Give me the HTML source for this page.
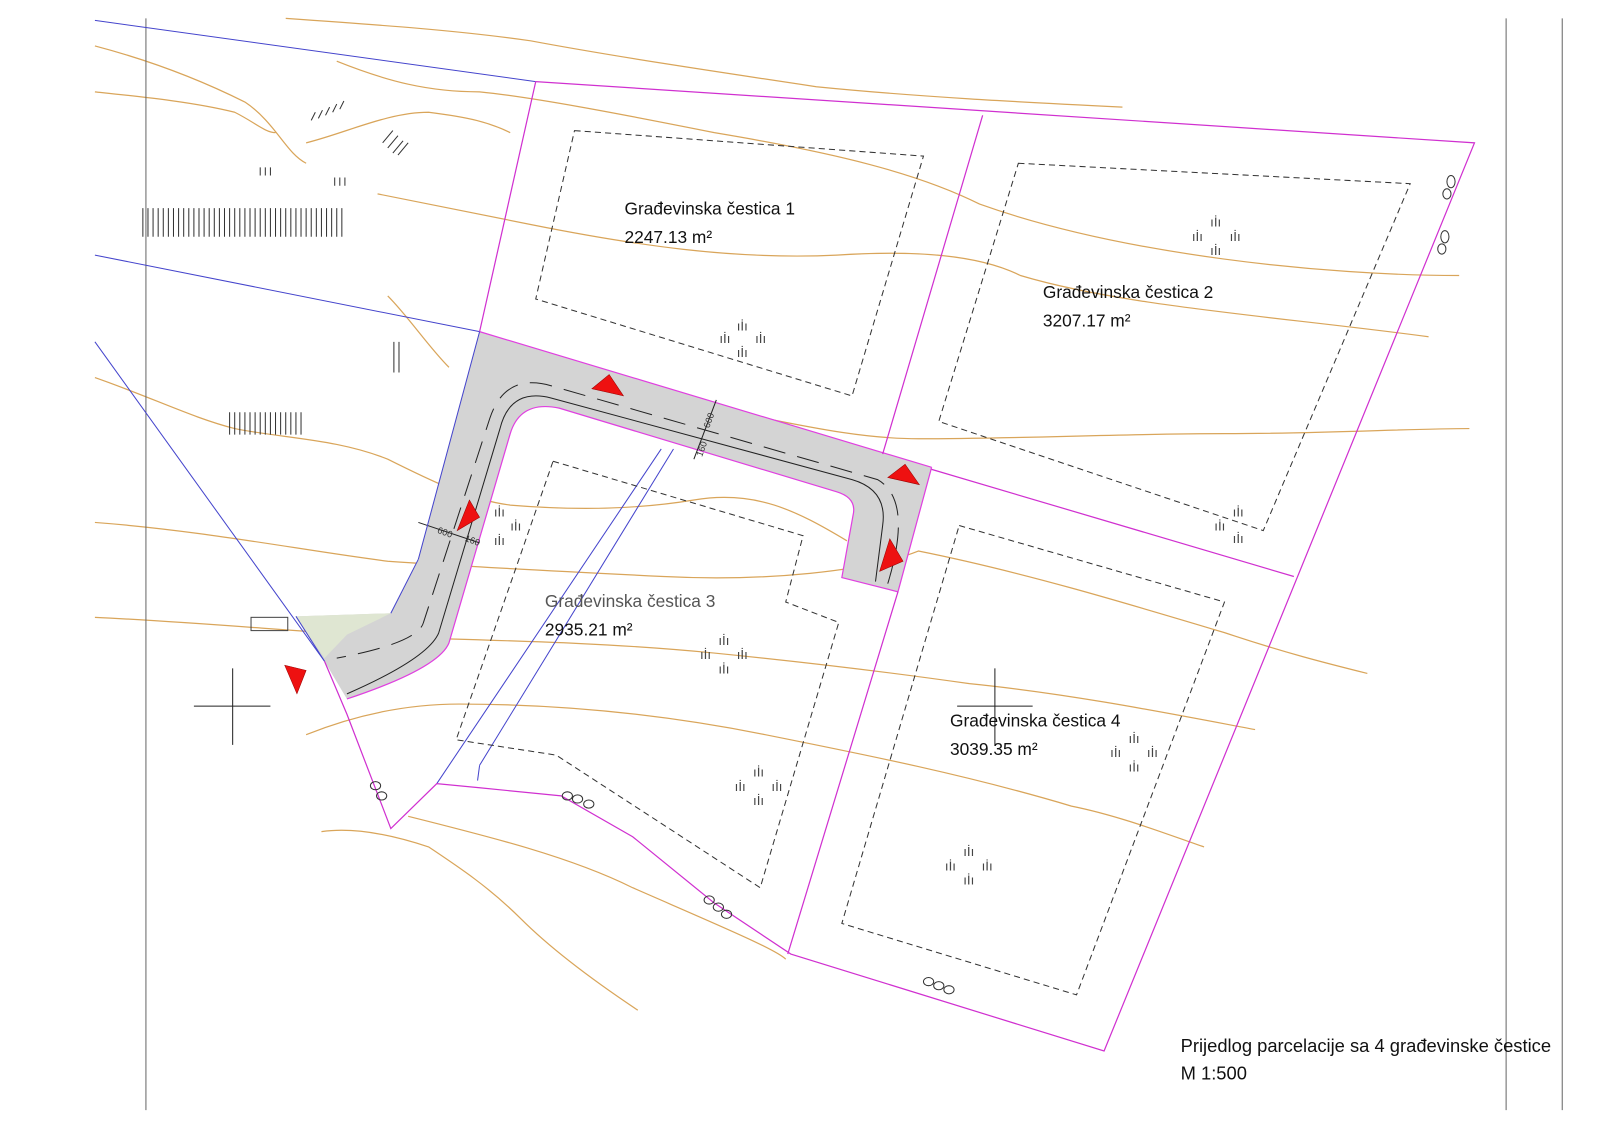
<!DOCTYPE html>
<html><head><meta charset="utf-8"><style>
html,body{margin:0;padding:0;background:#fff;}
svg{display:block;}
text{font-family:"Liberation Sans",sans-serif;}
</style></head><body>
<svg width="1600" height="1131" viewBox="0 0 1568 1108.4" xmlns="http://www.w3.org/2000/svg">
<rect width="1568" height="1108.4" fill="#fff"/>
<!-- contours -->
<g fill="none" stroke="#d9a55a" stroke-width="1.2">
<path d="M280,18 C380,25 450,30 520,40 C600,55 700,70 800,85 C900,95 1000,100 1100,105"/>
<path d="M93,45 C150,60 200,80 240,100 C270,120 280,150 300,160"/>
<path d="M93,90 C140,95 190,100 230,110 C250,120 260,130 270,130"/>
<path d="M330,60 C380,80 420,90 470,90 C520,95 600,110 700,130 C820,150 900,170 960,200 C1100,250 1300,270 1430,270"/>
<path d="M300,140 C340,130 380,110 420,110 C460,115 480,120 500,130"/>
<path d="M370,190 C420,200 470,210 520,220 C620,240 720,255 820,250 C900,245 960,250 1000,270 C1100,300 1250,310 1400,330"/>
<path d="M380,290 C400,310 420,340 440,360"/>
<path d="M93,370 C150,390 190,410 230,420 C280,430 330,430 380,450 C420,470 460,490 500,495 C560,500 620,500 680,490 C740,480 780,500 830,530"/>
<path d="M750,410 C800,420 850,430 900,430 C1000,430 1100,425 1200,425 C1300,425 1380,420 1440,420"/>
<path d="M93,512 C200,520 300,540 380,550 C450,555 550,560 650,565 C750,570 850,560 900,540 C1000,560 1100,590 1200,620 C1260,640 1300,650 1340,660"/>
<path d="M93,605 C200,610 300,620 400,625 C500,628 600,630 700,640 C800,650 880,660 950,670 C1050,680 1150,700 1230,715"/>
<path d="M300,720 C350,700 400,690 450,690 C550,690 650,700 750,720 C850,740 950,760 1050,790 C1100,800 1150,820 1180,830"/>
<path d="M315,815 C350,810 390,820 420,830 C450,850 480,870 510,900 C540,930 580,960 625,990"/>
<path d="M400,800 C480,820 560,840 620,870 C700,905 760,930 770,940"/>
</g>
<!-- hatching / symbols -->
<g stroke="#333" stroke-width="1">
<path d="M140,204v28M145,204v28M150,204v28M155,204v28M160,204v28M165,204v28M170,204v28M175,204v28M180,204v28M185,204v28M190,204v28M195,204v28M200,204v28M205,204v28M210,204v28M215,204v28M220,204v28M225,204v28M230,204v28M235,204v28M240,204v28M245,204v28M250,204v28M255,204v28M260,204v28M265,204v28M270,204v28M275,204v28M280,204v28M285,204v28M290,204v28M295,204v28M300,204v28M305,204v28M310,204v28M315,204v28M320,204v28M325,204v28M330,204v28M335,204v28"/>
<path d="M225,404v22M230,404v22M235,404v22M240,404v22M245,404v22M250,404v22M255,404v22M260,404v22M265,404v22M270,404v22M275,404v22M280,404v22M285,404v22M290,404v22M295,404v22"/>
<path d="M386,335v30M391,335v30"/>
<path d="M375,140l10,-12M380,145l10,-12M385,150l10,-12M390,152l10,-12"/>
<path d="M305,118l4,-8M312,116l4,-8M319,113l4,-8M326,110l4,-8M333,107l4,-8"/>
<path d="M255,172v-8M260,172v-8M265,172v-8M328,182v-8M333,182v-8M338,182v-8"/>
</g>
<!-- frame lines -->
<g stroke="#666" stroke-width="1">
<line x1="143" y1="18" x2="143" y2="1088"/>
<line x1="1476" y1="18" x2="1476" y2="1088"/>
<line x1="1531" y1="18" x2="1531" y2="1088"/>
</g>
<!-- road -->
<path d="M470,325 L913,458 L880,580 L825,566 L836,505 Q840,488 820,482 L548,400 Q510,392 500,425 L440,630 Q430,655 340,685 L318,648 L290,604 L383,601 L410,548 Z" fill="#d4d4d4"/>
<path d="M290,604 L383,601 L340,622 L318,645 Z" fill="#dfe6d2"/>
<path d="M913,458 L880,580 L825,566 L836,505 Q840,488 820,482 L548,400 Q510,392 500,425 L440,630 Q430,655 340,685" fill="none" stroke="#e040e0" stroke-width="1.2"/>
<path d="M470,325 L913,458" fill="none" stroke="#e040e0" stroke-width="1.2"/>
<g fill="none" stroke="#222" stroke-width="1">
<path d="M858,570 L865,515 Q870,480 835,470 L540,390 Q500,380 490,420 L430,620 Q420,645 340,680" />
<path d="M870,572 Q895,490 860,470 L540,378 Q495,365 480,410 L415,610 Q410,630 330,645" stroke-dasharray="22,12"/>
<path d="M638,620 L648,595" stroke="none"/>
<path d="M410,512 L470,532"/>
<path d="M680,450 L702,392"/>
</g>
<text x="428" y="522" font-size="9" fill="#333" transform="rotate(20 428 522)">600</text>
<text x="455" y="530" font-size="9" fill="#333" transform="rotate(20 455 530)">160</text>
<text x="695" y="420" font-size="9" fill="#333" transform="rotate(-70 695 420)">600</text>
<text x="688" y="448" font-size="9" fill="#333" transform="rotate(-70 688 448)">160</text>
<!-- blue lines -->
<g fill="none" stroke="#4444cc" stroke-width="1">
<line x1="93" y1="20" x2="525" y2="80"/>
<line x1="93" y1="250" x2="470" y2="325"/>
<line x1="93" y1="335" x2="318" y2="648"/>
<line x1="470" y1="325" x2="410" y2="548"/>
<line x1="410" y1="548" x2="383" y2="601"/>
<line x1="290" y1="604" x2="318" y2="648"/>
<line x1="660" y1="440" x2="470" y2="750"/>
<line x1="648" y1="440" x2="428" y2="768"/>
<line x1="470" y1="750" x2="468" y2="765"/>
</g>
<!-- magenta parcel lines -->
<g fill="none" stroke="#d030d0" stroke-width="1.2">
<polyline points="525,80 1445,140 1082,1030 775,935 700,885 620,820 550,780 470,772 428,768 383,812 340,700 318,648"/>
<line x1="525" y1="80" x2="470" y2="325"/>
<line x1="963" y1="113" x2="865" y2="445"/>
<line x1="913" y1="460" x2="1268" y2="565"/>
<line x1="880" y1="580" x2="772" y2="935"/>
</g>
<!-- building zones -->
<g fill="none" stroke="#333" stroke-width="1" stroke-dasharray="6,4">
<polygon points="563,128 905,153 835,388 525,293"/>
<polygon points="998,160 1382,180 1238,520 920,413"/>
<polygon points="542,452 787,525 770,590 822,610 745,870 545,740 447,725"/>
<polygon points="940,515 1200,590 1055,975 825,905"/>
</g>
<!-- crosshairs -->
<g stroke="#222" stroke-width="1">
<line x1="190" y1="692" x2="265" y2="692"/><line x1="228" y1="655" x2="228" y2="730"/>
<line x1="938" y1="692" x2="1012" y2="692"/><line x1="975" y1="655" x2="975" y2="730"/>
</g>
<rect x="246" y="605" width="36" height="13" fill="none" stroke="#444" stroke-width="1"/>
<!-- grass tufts -->
<g font-size="13" fill="#444">
<text x="705" y="336">ıİı</text><text x="722" y="324">ıİı</text><text x="740" y="336">ıİı</text><text x="722" y="350">ıİı</text>
<text x="1168" y="236">ıİı</text><text x="1186" y="222">ıİı</text><text x="1205" y="236">ıİı</text><text x="1186" y="250">ıİı</text>
<text x="1190" y="520">ıİı</text><text x="1208" y="506">ıİı</text><text x="1208" y="532">ıİı</text>
<text x="484" y="506">ıİı</text><text x="500" y="520">ıİı</text><text x="484" y="534">ıİı</text>
<text x="686" y="646">ıİı</text><text x="704" y="632">ıİı</text><text x="722" y="646">ıİı</text><text x="704" y="660">ıİı</text>
<text x="720" y="775">ıİı</text><text x="738" y="761">ıİı</text><text x="756" y="775">ıİı</text><text x="738" y="789">ıİı</text>
<text x="1088" y="742">ıİı</text><text x="1106" y="728">ıİı</text><text x="1124" y="742">ıİı</text><text x="1106" y="756">ıİı</text>
<text x="926" y="853">ıİı</text><text x="944" y="839">ıİı</text><text x="962" y="853">ıİı</text><text x="944" y="867">ıİı</text>
</g>
<!-- stones -->
<g fill="none" stroke="#333" stroke-width="1">
<ellipse cx="1422" cy="178" rx="4" ry="6"/><ellipse cx="1418" cy="190" rx="4" ry="5"/>
<ellipse cx="1416" cy="232" rx="4" ry="6"/><ellipse cx="1413" cy="244" rx="4" ry="5"/>
<ellipse cx="368" cy="770" rx="5" ry="4"/><ellipse cx="374" cy="780" rx="5" ry="4"/>
<ellipse cx="556" cy="780" rx="5" ry="4"/><ellipse cx="566" cy="783" rx="5" ry="4"/><ellipse cx="577" cy="788" rx="5" ry="4"/>
<ellipse cx="695" cy="882" rx="5" ry="4"/><ellipse cx="704" cy="889" rx="5" ry="4"/><ellipse cx="712" cy="896" rx="5" ry="4"/>
<ellipse cx="910" cy="962" rx="5" ry="4"/><ellipse cx="920" cy="966" rx="5" ry="4"/><ellipse cx="930" cy="970" rx="5" ry="4"/>
</g>
<!-- red triangles -->
<g fill="#ee1111" stroke="#900" stroke-width="0.5">
<polygon points="580,381 611,388 597,367"/>
<polygon points="870,468 901,475 887,455"/>
<polygon points="448,520 470,507 460,490"/>
<polygon points="862,560 885,550 872,528"/>
<polygon points="279,652 300,657 291,680"/>
</g>
<!-- labels -->
<g font-size="17" fill="#111">
<text x="612" y="210">Građevinska čestica 1</text>
<text x="612" y="238">2247.13 m²</text>
<text x="1022" y="292">Građevinska čestica 2</text>
<text x="1022" y="320">3207.17 m²</text>
<text x="534" y="595" fill="#555">Građevinska čestica 3</text>
<text x="534" y="623">2935.21 m²</text>
<text x="931" y="712">Građevinska čestica 4</text>
<text x="931" y="740">3039.35 m²</text>
<text x="1157" y="1031" font-size="18">Prijedlog parcelacije sa 4 građevinske čestice</text>
<text x="1157" y="1058" font-size="18">M 1:500</text>
</g>
</svg>
</body></html>
